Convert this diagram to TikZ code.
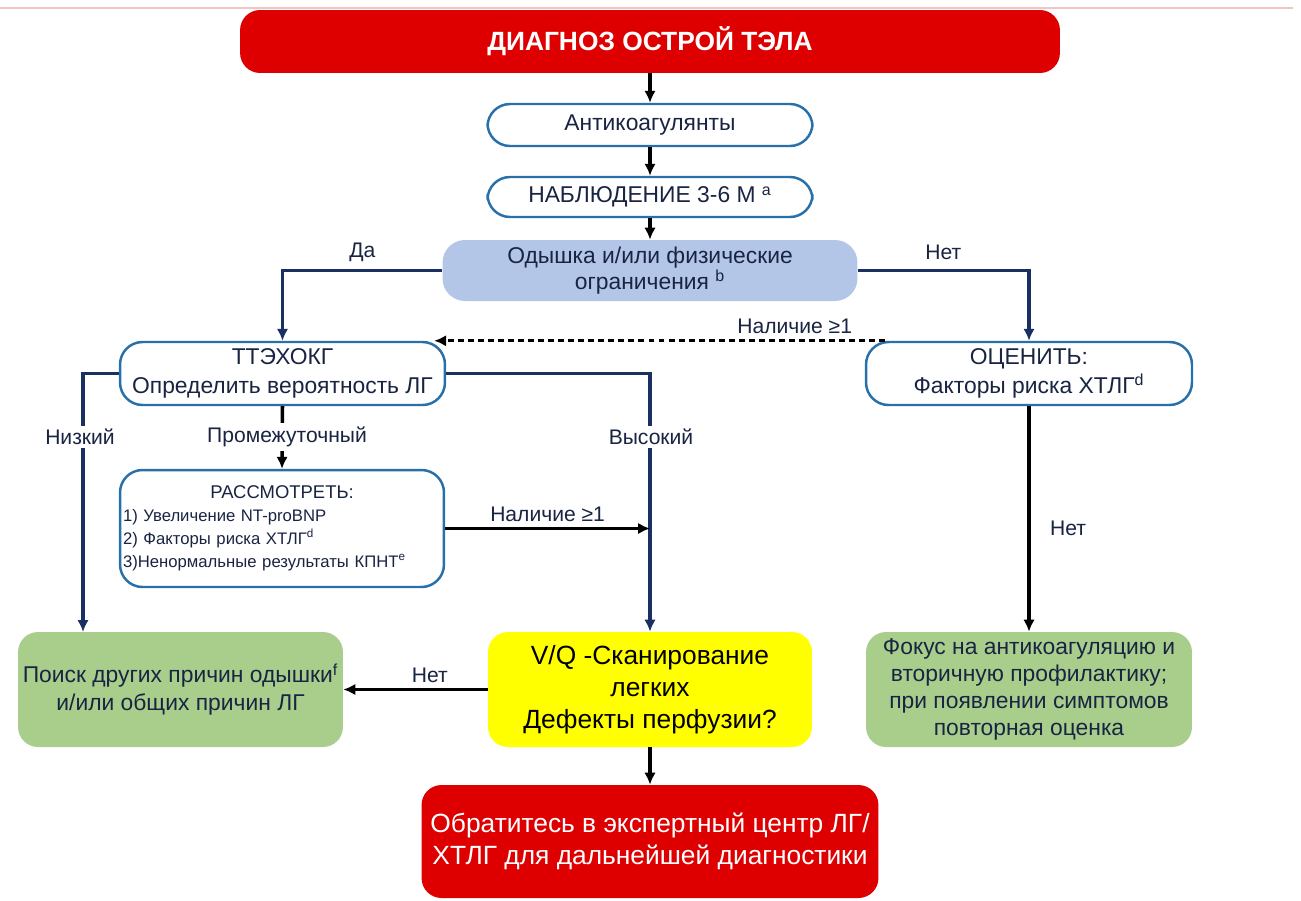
\documentclass[tikz,border=0pt]{standalone}
\usepackage{fontspec}
\setmainfont{Liberation Sans}
\usetikzlibrary{calc}
\usetikzlibrary{arrows.meta}
\definecolor{titlered}{RGB}{222,0,0}
\definecolor{boxblue}{RGB}{40,112,170}
\definecolor{linenavy}{RGB}{26,48,98}
\definecolor{textnavy}{RGB}{24,36,66}
\definecolor{askblue}{RGB}{180,198,231}
\definecolor{leafgreen}{RGB}{169,206,140}
\definecolor{scanyellow}{RGB}{255,255,0}
\definecolor{edgepink}{RGB}{242,196,196}

\begin{document}
\begin{tikzpicture}[x=0.02cm,y=-0.02cm,
    every node/.style={text=textnavy},
    redbox/.style={fill=titlered, rounded corners=0.4cm, inner sep=0pt, align=center, text=white},
    rbox/.style={draw=boxblue, line width=1.4pt, fill=white, rounded corners=0.45cm, inner sep=0pt, align=center, font=\fontsize{13}{16.5}\selectfont},
    askbox/.style={fill=askblue, rounded corners=0.45cm, inner sep=0pt, align=center, font=\fontsize{13}{15}\selectfont},
    greenbox/.style={fill=leafgreen, rounded corners=0.4cm, inner sep=0pt, align=center},
    scanbox/.style={fill=scanyellow, rounded corners=0.4cm, inner sep=0pt, align=center, text=black, font=\fontsize{15}{18.2}\selectfont},
    blkln/.style={draw=black, line width=2pt, -{Latex[length=6.8pt,width=6.5pt]}},
    navyln/.style={draw=linenavy, line width=2pt, -{Latex[length=6.8pt,width=6.5pt]}},
    dashln/.style={draw=black, line width=1.7pt, dash pattern=on 3.4pt off 2.3pt, -{Latex[length=6.8pt,width=6.5pt]}},
    lbl/.style={font=\fontsize{12}{14}\selectfont, inner sep=1pt},
    cutlbl/.style={lbl, fill=white, inner sep=2pt}]
  \useasboundingbox (0,0) rectangle (1301,900);
  \fill[white] (0,0) rectangle (1301,900);
  \draw[edgepink, line width=0.8pt] (0,8) -- (1293,8);

  % boxes, top to bottom
  \node[redbox, minimum width=16.4cm, minimum height=1.26cm, font=\fontsize{15}{18}\selectfont\bfseries] (diag) at (650,41.5) {ДИАГНОЗ ОСТРОЙ ТЭЛА};
  \node[rbox, minimum width=6.5cm, minimum height=0.84cm] (anticoag) at (650,125) {Антикоагулянты};
  \node[rbox, minimum width=6.5cm, minimum height=0.8cm] (watch) at (650,197) {НАБЛЮДЕНИЕ 3-6 М \textsuperscript{a}};
  \node[askbox, minimum width=8.3cm, minimum height=1.22cm] (ask) at (650,270.5) {Одышка и/или физические\\ограничения \textsuperscript{b}};

  \node[rbox, minimum width=6.5cm, minimum height=1.26cm] (tte) at (282.5,373.5) {ТТЭХОКГ\\Определить вероятность ЛГ};
  \node[rbox, minimum width=6.52cm, minimum height=1.26cm] (assess) at (1029,373.5) {ОЦЕНИТЬ:\\Факторы риска ХТЛГ\textsuperscript{d}};
  \node[rbox, minimum height=2.34cm, text width=6.36cm, inner xsep=0.06cm, align=left, font=\fontsize{9.5}{13}\selectfont] (consider) at (282,528.5)
    {\null\hfill{\fontsize{10.5}{13}\selectfont РАССМОТРЕТЬ:}\hfill\null\\
     1) Увеличение NT-proBNP\\
     2) Факторы риска ХТЛГ\textsuperscript{d}\\
     3)Ненормальные результаты КПНТ\textsuperscript{e}};

  \node[greenbox, minimum width=6.5cm, minimum height=2.3cm, font=\fontsize{13}{16}\selectfont] (search) at (180.5,689.5) {Поиск других причин одышки\textsuperscript{f}\\и/или общих причин ЛГ};
  \node[scanbox, minimum width=6.48cm, minimum height=2.3cm] (vq) at (650,689.5) {V/Q -Сканирование\\легких\\Дефекты перфузии?};
  \node[greenbox, minimum width=6.52cm, minimum height=2.3cm, font=\fontsize{13}{15.4}\selectfont] (focus) at (1029,689.5) {Фокус на антикоагуляцию и\\вторичную профилактику;\\при появлении симптомов\\повторная оценка};
  \node[redbox, minimum width=9.14cm, minimum height=2.26cm, font=\fontsize{15}{18.2}\selectfont] (expert) at (650,841.5) {Обратитесь в экспертный центр ЛГ/\\ХТЛГ для дальнейшей диагностики};

  \coordinate (lowtop) at (83,632);

  % connectors
  \draw[blkln] (diag) -- (anticoag);
  \draw[blkln] (anticoag) -- (watch);
  \draw[blkln] (watch) -- (ask);
  \draw[navyln] (ask.west) -| (tte.north) node[lbl, pos=0.25, above=3pt] {Да};
  \draw[navyln] (ask.east) -| (assess.north) node[lbl, pos=0.25, above=4pt] {Нет};
  \draw[dashln] ($(assess.north west)+(20,0)$) -- ($(tte.north east)+(-12,0)$) node[lbl, pos=0.2, above=2pt] {Наличие ≥1};
  \draw[navyln] (tte.west) -| (lowtop);
  \draw[navyln] (tte.east) -| (vq.north);
  \draw[blkln] (tte.south) -- (consider.north);
  \draw[blkln] (consider.east) -- (consider.east -| vq.north) node[lbl, midway, above=2pt] {Наличие ≥1};
  \draw[blkln] (vq.west) -- (search.east) node[lbl, pos=0.4, above=2pt] {Нет};
  \draw[blkln] (vq.south) -- (expert.north);
  \draw[blkln] (assess.south) -- (focus.north) node[lbl, pos=0.54, right=10pt] {Нет};

  % labels sitting on the lines
  \node[cutlbl] (low) at (80,437) {Низкий};
  \node[cutlbl] (mid) at (287,437) {Промежуточный};
  \node[cutlbl] (high) at (651,437) {Высокий};
\end{tikzpicture}
\end{document}
